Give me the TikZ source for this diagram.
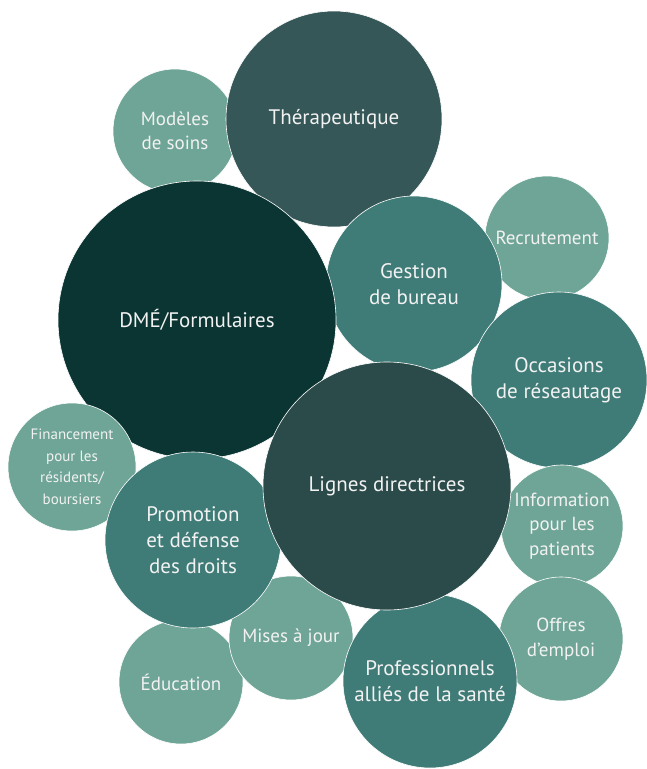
\documentclass[tikz,border=0pt]{standalone}
\usepackage{fontspec}
\setmainfont{PT Sans}
\usepackage{tikz}
\definecolor{bubDark}{HTML}{0B3533}
\definecolor{bubSlate}{HTML}{365757}
\definecolor{bubDeep}{HTML}{2B4B4A}
\definecolor{bubMid}{HTML}{407C77}
\definecolor{bubLight}{HTML}{6FA596}
\definecolor{bubText}{HTML}{F2F2F2}
\tikzset {
	bubble/.style={circle, inner sep=0pt, draw=white, line width=.6pt, text=bubText, align=center},
	big/.style={bubble, font=\fontsize{21}{26}\selectfont},
	small/.style={bubble, font=\fontsize{19}{24.5}\selectfont},
	tiny/.style={bubble, font=\fontsize{15}{21.5}\selectfont}
}
\begin{document}
\begin{tikzpicture}[x=1pt, y=-1pt]
					\useasboundingbox (0,0) rectangle (646,769);
					\node [small, fill=bubLight, minimum size=124pt] (modeles) at (175,131) {Modèles\\de soins};
					\node [big, fill=bubSlate, minimum size=216pt] (therap) at (334,119) {Thérapeutique};
					\node [small, fill=bubLight, minimum size=124pt] (recrut) at (547,238) {Recrutement};
					\node [big, fill=bubMid, minimum size=176pt] (gestion) at (414,284) {Gestion\\de bureau};
					\node [big, fill=bubDark, minimum size=278pt] (dme) at (197,320) {DMÉ/Formulaires};
					\node [big, fill=bubMid, minimum size=176pt] (reseau) at (559,380) {Occasions\\de réseautage};
					\node [small, fill=bubLight, minimum size=122pt] (info) at (562,526) {Information\\pour les\\patients};
					\node [small, fill=bubLight, minimum size=124pt] (offres) at (561,639) {Offres\\d’emploi};
					\node [tiny, fill=bubLight, minimum size=128pt] (financ) at (72,467) {Financement\\pour les\\résidents/\\boursiers};
					\node [small, fill=bubLight, minimum size=124pt] (educ) at (181,682) {Éducation};
					\node [small, fill=bubLight, minimum size=124pt] (mises) at (291,638) {Mises à jour};
					\node [big, fill=bubMid, minimum size=176pt] (promo) at (193,540) {Promotion\\et défense\\des droits};
					\node [big, fill=bubMid, minimum size=174pt] (prof) at (430,681) {Professionnels\\alliés de la santé};
					\node [big, fill=bubDeep, minimum size=248pt] (lignes) at (387,486) {Lignes directrices};
\end{tikzpicture}
\end{document}
